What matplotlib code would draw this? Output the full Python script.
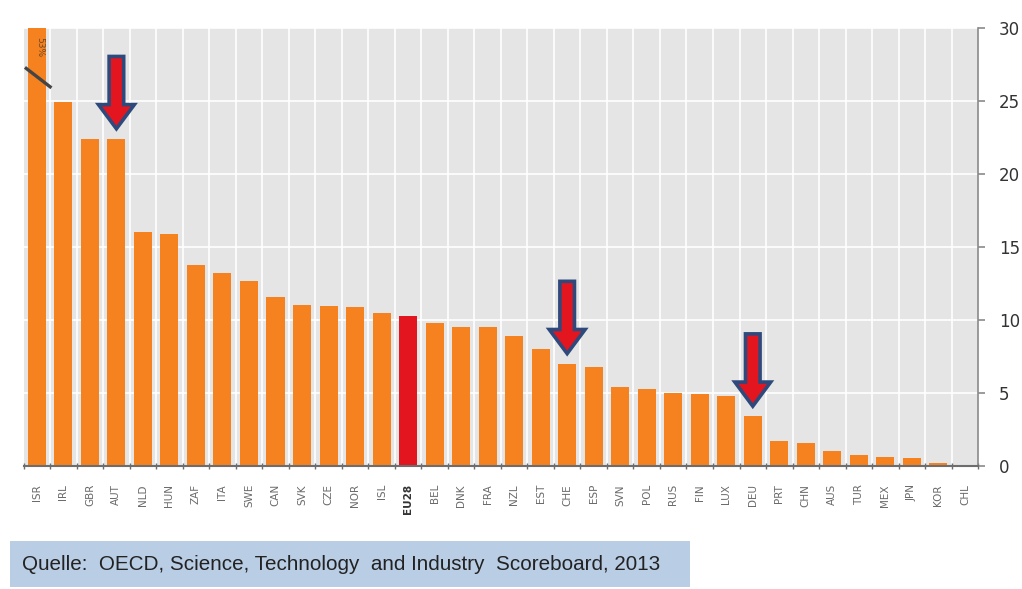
import matplotlib
matplotlib.use("Agg")
import matplotlib.pyplot as plt
from matplotlib.patches import FancyArrow, Rectangle
import numpy as np

countries = ["ISR", "IRL", "GBR", "AUT", "NLD", "HUN", "ZAF", "ITA", "SWE", "CAN",
             "SVK", "CZE", "NOR", "ISL", "EU28", "BEL", "DNK", "FRA", "NZL", "EST",
             "CHE", "ESP", "SVN", "POL", "RUS", "FIN", "LUX", "DEU", "PRT", "CHN",
             "AUS", "TUR", "MEX", "JPN", "KOR", "CHL"]
values = [53.0, 24.9, 22.4, 22.4, 16.0, 15.9, 13.8, 13.2, 12.7, 11.6,
          11.0, 10.95, 10.9, 10.5, 10.3, 9.8, 9.5, 9.5, 8.9, 8.0,
          7.0, 6.8, 5.4, 5.3, 5.0, 4.9, 4.8, 3.4, 1.7, 1.6,
          1.0, 0.75, 0.6, 0.55, 0.2, 0.1]
highlight = "EU28"
marked = ["AUT", "CHE", "DEU"]
y_ticks = [0, 5, 10, 15, 20, 25, 30]
y_max = 30
source_text = "Quelle:  OECD, Science, Technology  and Industry  Scoreboard, 2013"

orange = "#f5821f"
red = "#e3151f"
grid_bg = "#e5e5e5"

fig = plt.figure(figsize=(10.22, 5.89), dpi=100)
ax = fig.add_axes([0.0231, 0.2088, 0.934, 0.7437])
ax.set_facecolor(grid_bg)

x = np.arange(len(countries))
colors = [red if c == highlight else orange for c in countries]
shown = [min(v, y_max) for v in values]
ax.bar(x, shown, width=0.68, color=colors, zorder=3)

ax.set_xlim(-0.5, len(countries) - 0.5)
ax.set_ylim(0, y_max)

# white grid: horizontal at y ticks, vertical between categories
for yv in y_ticks[1:]:
    ax.axhline(yv, color="white", lw=1.2, zorder=1)
for b in np.arange(-0.5, len(countries), 1.0)[1:-1]:
    ax.axvline(b, color="white", lw=1.2, zorder=1)

# spines
for s in ["top", "left"]:
    ax.spines[s].set_visible(False)
ax.spines["bottom"].set_color("#6d6d6d")
ax.spines["bottom"].set_linewidth(1.5)
ax.spines["right"].set_color("#8a8a8a")
ax.spines["right"].set_linewidth(1.2)
ax.spines["bottom"].set_zorder(4)

# y axis on the right
ax.yaxis.tick_right()
ax.set_yticks(y_ticks)
ax.set_yticklabels([str(v) for v in y_ticks], fontsize=12, color="#333333",
                   family="DejaVu Sans")
ax.tick_params(axis="y", direction="out", length=5, width=1.2, color="#8a8a8a", pad=10)

# x labels at category centres, small ticks at category boundaries
ax.set_xticks(x)
ax.set_xticklabels(countries, rotation=90, fontsize=7.5, color="#6a6a6a")
ax.tick_params(axis="x", which="major", length=0, pad=13)
ax.set_xticks(np.arange(-0.5, len(countries), 1.0), minor=True)
ax.tick_params(axis="x", which="minor", direction="inout", length=5, width=1,
               color="#6d6d6d")
for lbl in ax.get_xticklabels():
    if lbl.get_text() == highlight:
        lbl.set_fontweight("bold")
        lbl.set_color("#333333")

# break mark on the truncated bar
i0 = 0
ax.plot([i0 - 0.45, i0 + 0.55], [27.3, 25.9], color="#454545", lw=2.4, zorder=5,
        solid_capstyle="butt")
ax.text(i0 + 0.1, 29.4, f"{values[0]:.0f}%", rotation=270, fontsize=6.5,
        color="#6b4a2a", ha="center", va="top", zorder=6)

# arrows over the marked countries
for c in marked:
    i = countries.index(c)
    tip = values[i] + 0.7
    length = 4.95
    arr = FancyArrow(i, tip + length, 0, -length, width=0.55, head_width=1.35,
                     head_length=1.65, length_includes_head=True,
                     facecolor=red, edgecolor="#2e4a7d", lw=2.6, zorder=7,
                     joinstyle="miter")
    ax.add_patch(arr)

# source box
fig.patches.append(Rectangle((10 / 1022, 1 - 587 / 589), 680 / 1022, 46 / 589,
                             transform=fig.transFigure, facecolor="#b9cde5",
                             edgecolor="none", zorder=0))
fig.text(22 / 1022, 1 - 564 / 589, source_text, fontsize=14.9, color="#222222",
         family="Liberation Sans", va="center", ha="left")

fig.savefig("out.png", dpi=100)
